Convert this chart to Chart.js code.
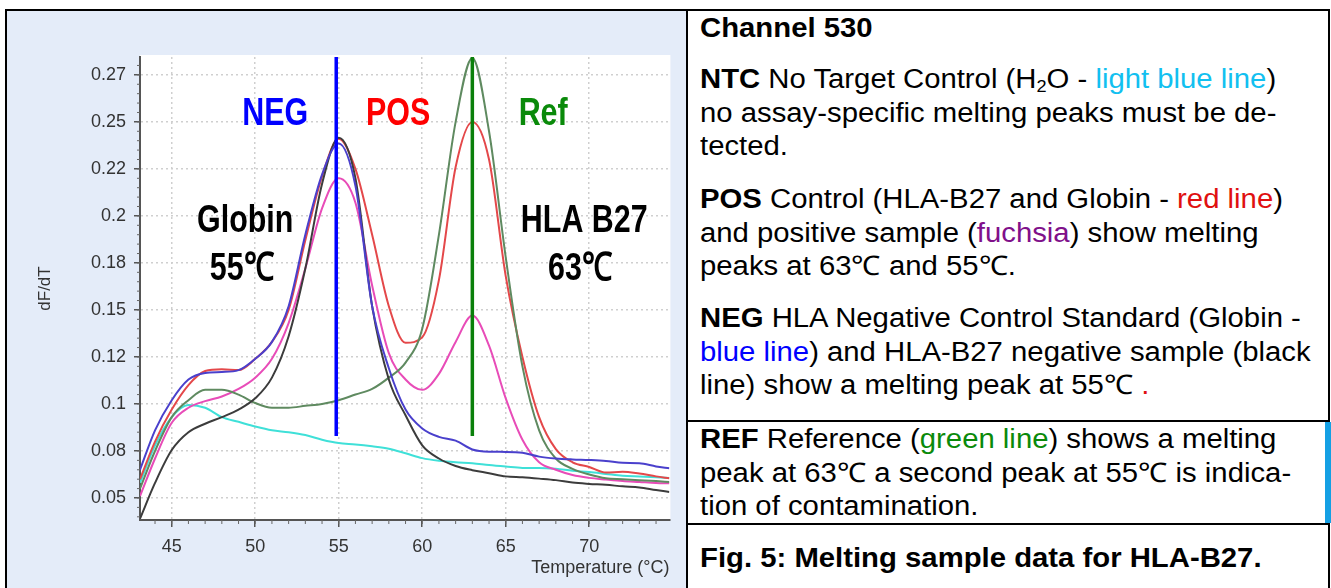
<!DOCTYPE html>
<html>
<head>
<meta charset="utf-8">
<script src="https://cdn.jsdelivr.net/npm/chart.js"></script>
<style>
    body { margin: 0; width: 1331px; height: 588px; overflow: hidden; background: #fff; position: relative; font-family: "Liberation Sans", Arial, sans-serif; }
    .moldura { position: absolute; left: 5px; top: 9px; width: 1321px; height: 600px; border: 2px solid #000; }
    .painel { position: absolute; left: 7px; top: 11px; width: 679px; height: 577px; background: #e4ecf9; }
    .linha { position: absolute; background: #000; }
    .barra { position: absolute; left: 1325px; top: 422px; width: 6px; height: 101px; background: #14a0e4; }
    #caixaGrafico { position: absolute; left: 0; top: 0; width: 688px; height: 588px; }
    .texto { position: absolute; left: 700px; font-size: 27px; line-height: 33.5px; white-space: nowrap; color: #000; transform: scaleX(1.085); transform-origin: 0 0; }
    sub { font-size: 0.62em; vertical-align: -0.22em; line-height: 0; }
    .azulClaro { color: #12c0f0; }
    .vermelho { color: #e01010; }
    .fucsia { color: #80108a; }
    .azul { color: #0000ff; }
    .verde { color: #0a8a0a; }
</style>
</head>
<body>
<div class="painel"></div>
<div class="moldura"></div>
<div class="linha" style="left:686px; top:9px; width:2px; height:579px;"></div>
<div class="linha" style="left:686px; top:420px; width:644px; height:2px;"></div>
<div class="linha" style="left:686px; top:523px; width:644px; height:2px;"></div>
<div class="barra"></div>

<div class="texto" style="top:12px;"><b>Channel 530</b></div>
<div class="texto" style="top:63px;"><b>NTC</b> No Target Control (H<sub>2</sub>O - <span class="azulClaro">light blue line</span>)<br>no assay-specific melting peaks must be de-<br>tected.</div>
<div class="texto" style="top:183px;"><b>POS</b> Control (HLA-B27 and Globin - <span class="vermelho">red line</span>)<br>and positive sample (<span class="fucsia">fuchsia</span>) show melting<br>peaks at 63℃ and 55℃.</div>
<div class="texto" style="top:302px;"><b>NEG</b> HLA Negative Control Standard (Globin -<br><span class="azul">blue line</span>) and HLA-B27 negative sample (black<br>line) show a melting peak at 55℃ <span class="vermelho">.</span></div>
<div class="texto" style="top:423px;"><b>REF</b> Reference (<span class="verde">green line</span>) shows a melting<br>peak at 63℃ a second peak at 55℃ is indica-<br>tion of contamination.</div>
<div class="texto" style="top:542px;"><b>Fig. 5: Melting sample data for HLA-B27.</b></div>

<div id="caixaGrafico"><canvas id="graficoMelting"></canvas></div>

<script>
// temperaturas (°C) e curvas dF/dT
const temperaturas = [43.1, 44, 45, 46, 47, 48, 49, 50, 51, 52, 53, 54, 55, 56, 57, 58, 59, 60, 61, 62, 63, 64, 65, 66, 67, 68, 69, 70, 71, 72, 73, 74, 74.8];

const curvaNTC = [0.058, 0.078, 0.093, 0.0995, 0.098, 0.093, 0.0905, 0.088, 0.086, 0.085, 0.0835, 0.081, 0.0792, 0.0785, 0.0775, 0.0762, 0.0738, 0.0712, 0.0698, 0.069, 0.0685, 0.0675, 0.0667, 0.066, 0.066, 0.0655, 0.0645, 0.0638, 0.0628, 0.0618, 0.0614, 0.061, 0.0607];
const curvaNegControle = [0.065, 0.086, 0.102, 0.113, 0.1165, 0.117, 0.118, 0.124, 0.133, 0.152, 0.19, 0.222, 0.2385, 0.216, 0.152, 0.119, 0.097, 0.087, 0.0825, 0.0805, 0.0758, 0.0746, 0.0745, 0.074, 0.072, 0.071, 0.0705, 0.0702, 0.0697, 0.0687, 0.0685, 0.0668, 0.0658];
const curvaNegAmostra = [0.039, 0.058, 0.0755, 0.085, 0.0895, 0.093, 0.097, 0.103, 0.114, 0.136, 0.172, 0.217, 0.2415, 0.22, 0.152, 0.113, 0.094, 0.078, 0.071, 0.067, 0.0648, 0.0632, 0.0615, 0.061, 0.0603, 0.0595, 0.0582, 0.0575, 0.057, 0.0562, 0.0556, 0.0542, 0.0532];
const curvaPosControle = [0.06, 0.08, 0.097, 0.11, 0.1175, 0.1185, 0.118, 0.124, 0.133, 0.15, 0.187, 0.221, 0.241, 0.225, 0.19, 0.152, 0.1325, 0.1355, 0.166, 0.226, 0.25, 0.23, 0.168, 0.125, 0.093, 0.076, 0.069, 0.0665, 0.0635, 0.064, 0.063, 0.0615, 0.0605];
const curvaPosAmostra = [0.051, 0.071, 0.09, 0.098, 0.1015, 0.104, 0.108, 0.114, 0.124, 0.143, 0.172, 0.204, 0.22, 0.207, 0.163, 0.127, 0.113, 0.1075, 0.116, 0.133, 0.147, 0.131, 0.103, 0.081, 0.069, 0.065, 0.0622, 0.0607, 0.0598, 0.059, 0.0585, 0.058, 0.0578];
const curvaReferencia = [0.055, 0.075, 0.093, 0.102, 0.1075, 0.1075, 0.105, 0.1005, 0.098, 0.098, 0.099, 0.1, 0.102, 0.105, 0.108, 0.114, 0.122, 0.14, 0.19, 0.25, 0.284, 0.245, 0.178, 0.12, 0.086, 0.071, 0.0655, 0.0625, 0.0605, 0.06, 0.0595, 0.059, 0.0585];

// linhas verticais de marcação (Globin 55 °C, HLA-B27 63 °C)
const marcadoresTemp = [54.85, 63.0];
const marcadoresFaixa = [0.083, 0.2845];

const ticksX = [45, 50, 55, 60, 65, 70];
const ticksY = [0.05, 0.075, 0.1, 0.125, 0.15, 0.175, 0.2, 0.225, 0.25, 0.275];
const rotulosY = ['0.05', '0.08', '0.1', '0.12', '0.15', '0.18', '0.2', '0.22', '0.25', '0.27'];

const tituloX = 'Temperature (°C)';
const tituloY = 'dF/dT';

const anotacoes = [
    { texto: 'NEG', cor: '#0000ff', x: 51.2, y: 0.2484 },
    { texto: 'POS', cor: '#ff0000', x: 58.56, y: 0.2484 },
    { texto: 'Ref', cor: '#0a8a0a', x: 67.24, y: 0.2484 },
    { texto: 'Globin', cor: '#000', x: 49.4, y: 0.1915 },
    { texto: '55℃', cor: '#000', x: 49.2, y: 0.166 },
    { texto: 'HLA B27', cor: '#000', x: 69.7, y: 0.1915 },
    { texto: '63℃', cor: '#000', x: 69.46, y: 0.166 }
];

function pontos(valores) {
    return temperaturas.map((t, i) => ({ x: t, y: valores[i] }));
}

function marcador(temp, cor) {
    return {
        data: marcadoresFaixa.map(v => ({ x: temp, y: v })),
        borderColor: cor,
        borderWidth: 3.5,
        tension: 0
    };
}

function curva(valores, cor) {
    return {
        data: pontos(valores),
        borderColor: cor,
        borderWidth: 2,
        cubicInterpolationMode: 'monotone'
    };
}

document.addEventListener('DOMContentLoaded', function () {

    Chart.defaults.font.family = '"Liberation Sans", Arial, sans-serif';

    // fundo branco só na área do gráfico
    const fundoPlugin = {
        id: 'fundo',
        beforeDraw(chart) {
            const a = chart.chartArea;
            chart.ctx.save();
            chart.ctx.fillStyle = '#fff';
            chart.ctx.fillRect(a.left, a.top - 2, a.right - a.left + 1, a.bottom - a.top + 2);
            chart.ctx.restore();
        }
    };

    // ticks menores nos eixos
    const ticksMenoresPlugin = {
        id: 'ticksMenores',
        afterDraw(chart) {
            const { ctx, chartArea, scales } = chart;
            ctx.save();
            ctx.strokeStyle = '#666';
            ctx.lineWidth = 1;
            ctx.beginPath();
            for (let k = 8; k <= 56; k++) {
                const py = scales.y.getPixelForValue(k * 0.005);
                if (py < chartArea.top || py > chartArea.bottom) continue;
                ctx.moveTo(chartArea.left - 3, py);
                ctx.lineTo(chartArea.left, py);
            }
            for (let t = 44; t <= 74; t++) {
                const px = scales.x.getPixelForValue(t);
                ctx.moveTo(px, chartArea.bottom);
                ctx.lineTo(px, chartArea.bottom + 4);
            }
            ctx.stroke();
            ctx.restore();
        }
    };

    const anotacoesPlugin = {
        id: 'anotacoes',
        afterDatasetsDraw(chart) {
            const { ctx, scales } = chart;
            anotacoes.forEach(a => {
                ctx.save();
                ctx.font = 'bold 39px "Liberation Sans", Arial, sans-serif';
                ctx.fillStyle = a.cor;
                ctx.textAlign = 'center';
                ctx.textBaseline = 'alphabetic';
                ctx.translate(scales.x.getPixelForValue(a.x), scales.y.getPixelForValue(a.y));
                ctx.scale(0.78, 1);
                ctx.fillText(a.texto, 0, 0);
                ctx.restore();
            });
        }
    };

    const ctxGrafico = document.getElementById('graficoMelting').getContext('2d');
    const graficoMelting = new Chart(ctxGrafico, {
        type: 'line',
        data: {
            datasets: [
                marcador(marcadoresTemp[0], '#0000ff'),
                marcador(marcadoresTemp[1], '#0a800a'),
                curva(curvaNegControle, '#4a40cc'),
                curva(curvaNegAmostra, '#3c3c3c'),
                curva(curvaReferencia, '#5f8a60'),
                curva(curvaPosControle, '#e4484a'),
                curva(curvaPosAmostra, '#e84cb8'),
                curva(curvaNTC, '#3fe0d8')
            ]
        },
        options: {
            responsive: true,
            maintainAspectRatio: false,
            animation: false,
            devicePixelRatio: 1,
            layout: { padding: { left: 30, top: 57, right: 18.6, bottom: 0 } },
            elements: { point: { radius: 0 } },
            plugins: {
                legend: { display: false },
                tooltip: { enabled: false }
            },
            scales: {
                x: {
                    type: 'linear',
                    min: 43.1,
                    max: 74.8,
                    afterBuildTicks: s => { s.ticks = ticksX.map(v => ({ value: v })); },
                    afterFit: s => { s.height = 68; },
                    ticks: { autoSkip: false, maxRotation: 0, font: { size: 18 }, color: '#333', padding: 9, callback: v => v },
                    grid: { color: '#cfcfcf', lineWidth: 1.5, tickLength: 7, tickColor: '#555', tickWidth: 1.5 },
                    border: { display: true, color: '#555', width: 2, dash: [2, 3] },
                    title: { display: true, text: tituloX, align: 'end', font: { size: 18 }, color: '#333', padding: { top: 0, bottom: 9 } }
                },
                y: {
                    min: 0.0383,
                    max: 0.2845,
                    afterBuildTicks: s => { s.ticks = ticksY.map(v => ({ value: v })); },
                    afterFit: s => { s.width = 110; },
                    ticks: { autoSkip: false, font: { size: 18 }, color: '#333', padding: 8, callback: (v, i) => rotulosY[i] },
                    grid: { color: '#cfcfcf', lineWidth: 1.5, tickLength: 6, tickColor: '#555', tickWidth: 1.5 },
                    border: { display: true, color: '#555', width: 2, dash: [2, 3] },
                    title: { display: true, text: tituloY, font: { size: 17 }, color: '#333', padding: { top: 5, bottom: 0 } }
                }
            }
        },
        plugins: [fundoPlugin, ticksMenoresPlugin, anotacoesPlugin]
    });
});
</script>
</body>
</html>
